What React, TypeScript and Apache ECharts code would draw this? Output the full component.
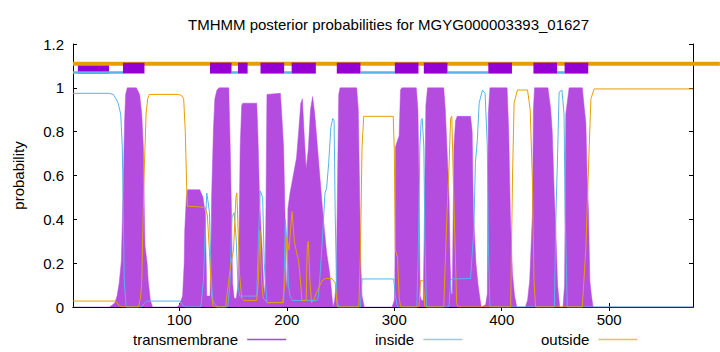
import React, { useEffect, useRef } from 'react';
import * as echarts from 'echarts';

const TITLE = 'TMHMM posterior probabilities for MGYG000003393_01627';
const Y_NAME = 'probability';
const SEQ_START = 1;
const SEQ_END = 578;
const xTickValues = [100, 200, 300, 400, 500];
const seriesNames = ['transmembrane', 'inside', 'outside'];

// posterior probability curves [residue, probability]
const transmembrane: number[][] = [
  [1, 0], [35, 0], [38, 0.01], [40, 0.02], [42, 0.05], [44, 0.11], [46, 0.21], [47, 0.4], [48, 0.6], [49, 0.85], [50, 0.97], [51.5, 1.0], [60, 1.0], [63, 0.97], [65, 0.88], [66.5, 0.73], [67.5, 0.4], [68, 0.28], [70, 0.2], [71, 0.12], [73, 0.03], [75, 0],
  [98, 0], [100, 0.01], [103, 0.05], [104.5, 0.2], [105, 0.35], [106.5, 0.5], [107.5, 0.535], [119, 0.535], [122, 0.5], [124, 0.43], [125, 0.2], [125.5, 0.05], [128.5, 0.05], [129.5, 0.3], [130, 0.5], [131.7, 0.81], [133, 0.95], [135, 0.99], [137, 1.0], [146, 1.0], [147.3, 0.73], [148.5, 0.43], [149.5, 0.11], [151, 0.04], [153, 0.04], [154, 0.08], [155, 0.12], [156.6, 0.73], [158, 0.92], [159, 0.93], [172, 0.93], [173, 0.8], [174.6, 0.5], [176, 0.35], [177, 0.27], [178.4, 0.1], [179.5, 0.05], [180.5, 0.4], [181.5, 0.97], [194, 0.975], [195, 0.9], [197, 0.73], [198.6, 0.35], [199.5, 0.12], [200.3, 0.08], [201, 0.45], [203, 0.52], [206, 0.6], [209, 0.68], [211, 0.8], [213, 0.93], [214.5, 0.95], [216, 0.8], [218, 0.63], [220, 0.72], [222, 0.9], [224, 0.96], [226, 0.88], [228, 0.76], [231, 0.58], [234, 0.4], [237, 0.25], [240, 0.15], [242, 0.05], [243, 0], [244.5, 0.03], [246, 0.12], [247.3, 0.6], [248.3, 0.97], [249.5, 1.0], [265, 1.0], [266.5, 0.9], [267.5, 0.6], [268.8, 0.2], [270, 0.05], [272, 0],
  [298, 0], [300, 0.03], [300.5, 0.1], [301.1, 0.73], [303, 0.76], [304.5, 0.78], [305.8, 0.99], [307, 1.0], [320.5, 1.0], [322, 0.9], [323, 0.58], [324, 0.05], [325.5, 0.03], [327, 0.03], [328, 0.4], [329.4, 0.92], [331, 1.0], [346, 1.0], [347.5, 0.9], [349, 0.73], [351, 0.5], [352, 0.2], [353, 0.06], [354, 0.06], [355.5, 0.73], [357, 0.85], [358.6, 0.87], [371, 0.87], [372.5, 0.8], [373.6, 0.43], [376, 0.2], [378, 0.1], [380, 0.03], [381, 0], [385, 0.01], [386.6, 0.06], [387.5, 0.88], [389, 1.0], [405, 1.0], [406.5, 0.8], [408, 0.43], [410, 0.15], [412, 0.05], [414, 0], [422, 0], [424, 0.03], [426, 0.12], [428.6, 0.43], [429.5, 0.9], [430.5, 1.0], [443, 1.0], [445.6, 0.9], [447, 0.8], [449, 0.5], [450.3, 0.35], [452, 0.1], [454, 0], [457, 0], [458.5, 0.1], [459.6, 0.88], [462.7, 1.0], [475, 1.0], [477, 0.9], [478.3, 0.84], [479.5, 0.6], [480.8, 0.43], [482, 0.12], [483.5, 0.05], [485, 0], [578, 0],
];

const inside: number[][] = [
  [1, 0.975], [34.7, 0.975], [38.5, 0.97], [41, 0.95], [43, 0.93], [45.4, 0.88], [46.9, 0.73], [47.8, 0.43], [48.7, 0.12], [50.3, 0.01], [51, 0], [65, 0], [67, 0.015], [69.6, 0.027], [100.6, 0.027], [103, 0.01], [105, 0], [120, 0], [122.4, 0.12], [124, 0.35], [125.5, 0.52], [127, 0.47], [128, 0.43], [129.5, 0.15], [131, 0.03], [134.9, 0], [145, 0], [147, 0.1], [148.9, 0.41], [151, 0.43], [153, 0.3], [154.5, 0.1], [156, 0.05], [172, 0.05], [173.5, 0.3], [175.2, 0.53], [177.5, 0.5], [179, 0.2], [181.5, 0.02], [197, 0.02], [198.6, 0.4], [200, 0.3], [201.5, 0.1], [203, 0.05], [205, 0.03], [228, 0.03], [229.5, 0.05], [231, 0.15], [233, 0.3], [235.5, 0.52], [237, 0.54], [239, 0.66], [241, 0.82], [242.7, 0.86], [244, 0.85], [245, 0.43], [246.5, 0.04], [248, 0], [268.5, 0], [270, 0.128], [299.5, 0.128], [301, 0.05], [303, 0], [321, 0], [322.5, 0.3], [323.8, 0.73], [325, 0.85], [326, 0.86], [327.5, 0.73], [328.5, 0.3], [330, 0], [350.9, 0], [352.4, 0.12], [353.5, 0.128], [371, 0.13], [374, 0.35], [375.5, 0.66], [377.3, 0.76], [379, 0.93], [382, 0.99], [384.5, 0.975], [386.6, 0.73], [387.5, 0.3], [389, 0], [449, 0], [450.3, 0.4], [452, 0.7], [453.4, 0.98], [456, 0.99], [458, 0.88], [459, 0.43], [461, 0], [578, 0],
];

const outside: number[][] = [
  [1, 0.027], [40, 0.027], [42, 0.02], [44, 0.005], [47, 0], [62, 0], [64, 0.05], [65, 0.12], [67, 0.58], [69, 0.88], [70.5, 0.95], [72, 0.97], [99, 0.97], [102, 0.965], [104, 0.95], [105.5, 0.8], [106.9, 0.53], [107.5, 0.46], [124, 0.455], [126, 0.42], [128, 0.25], [130, 0.05], [131.5, 0], [143, 0], [145.7, 0.11], [148, 0.2], [150.4, 0.26], [152.6, 0.5], [153.5, 0.52], [155, 0.3], [156, 0.15], [158, 0.04], [160, 0.03], [172, 0.03], [173.5, 0.12], [175, 0.35], [176.5, 0.12], [178, 0.04], [182, 0.02], [196, 0.02], [198, 0.1], [200, 0.32], [202, 0.26], [204.8, 0.435], [207, 0.3], [209, 0.25], [211, 0.21], [213, 0.1], [214, 0.03], [218, 0.03], [219, 0.27], [220, 0.3], [221.5, 0.12], [223, 0.02], [225, 0.03], [228, 0.07], [232.8, 0.12], [236, 0.13], [242, 0.13], [245, 0.11], [247, 0], [267, 0], [268.5, 0.25], [270, 0.73], [271.6, 0.87], [299, 0.87], [300, 0.72], [301, 0.26], [303, 0.23], [304.6, 0.04], [306, 0], [323, 0], [324.4, 0.12], [327, 0.12], [328.5, 0], [346, 0], [349, 0.42], [351, 0.65], [352.4, 0.86], [353.5, 0.87], [355, 0.57], [358, 0.02], [359, 0], [408.3, 0], [410, 0.58], [411.5, 0.93], [414.6, 0.99], [424, 0.99], [426.5, 0.9], [428.6, 0.57], [430, 0.12], [431.5, 0], [475, 0], [478.3, 0.27], [481.4, 0.73], [483, 0.95], [486, 0.995], [578, 0.995],
];

// predicted topology track [start, end]
const tmFirstSegment: number[][] = [[5.5, 34.5]];
const tmSegments: number[][] = [
  [47.5, 67.5], [128.5, 148.5], [154.5, 163.5], [175.5, 197.5], [204.5, 227], [246.5, 268.5],
  [300.5, 322.5], [327.5, 349.5], [387.5, 409.5], [429.5, 451.5], [458.5, 480.5],
];
const insideSegments: number[][] = [
  [1, 47.5], [148.5, 154.5], [197.5, 204.5], [268.5, 300.5], [349.5, 387.5], [451.5, 458.5],
];
const outsideSegments: number[][] = [[1, 603]];

const TRACK_OUT = 1.11;
const TRACK_IN = 1.07;
const BOX_TOP = 1.115;
const BOX_BOTTOM = 1.065;

const FONT = 'Liberation Sans, Arial, sans-serif';
const C_TM = '#b44ce0';
const C_BOX = '#9400d3';
const C_IN = '#56b4e9';
const C_OUT = '#e69f00';

function lineRender(level: number, width: number, color: string) {
  return (params: any, api: any) => {
    const a = api.coord([api.value(0), level]);
    const b = api.coord([api.value(1), level]);
    return {
      type: 'line',
      shape: { x1: a[0], y1: a[1], x2: b[0], y2: b[1] },
      style: { stroke: color, lineWidth: width },
    };
  };
}

function boxRender(params: any, api: any) {
  const a = api.coord([api.value(0), BOX_TOP]);
  const b = api.coord([api.value(1), BOX_BOTTOM]);
  return {
    type: 'rect',
    shape: { x: a[0], y: a[1], width: b[0] - a[0], height: b[1] - a[1] },
    style: { fill: C_BOX },
  };
}

const segData = (segs: number[][]) => segs.map((s) => [s[0], s[1], 1.1]);

export default function App() {
  const ref = useRef<HTMLDivElement>(null);
  useEffect(() => {
    document.body.style.margin = '0';
    const chart = echarts.init(ref.current!, undefined, { renderer: 'svg' });
    const axisLine = { show: true, lineStyle: { color: '#000', width: 1 } };
    const legendBase = {
      orient: 'horizontal',
      align: 'right',
      top: 331,
      padding: 1,
      itemWidth: 39,
      itemHeight: 1.5,
      textStyle: { fontFamily: FONT, fontSize: 15, color: '#000' },
      formatter: (n: string) => n + ' ',
    };
    chart.setOption({
      animation: false,
      backgroundColor: '#fff',
      title: {
        text: TITLE,
        left: 183,
        top: 12,
        textStyle: { fontFamily: FONT, fontSize: 15, fontWeight: 'normal', color: '#000' },
      },
      legend: [
        { ...legendBase, left: 132, data: [{ name: seriesNames[0], icon: 'rect', itemStyle: { color: '#a748dc' } }] },
        { ...legendBase, left: 374, data: [{ name: seriesNames[1], icon: 'rect', itemStyle: { color: '#8fcdf0' } }] },
        { ...legendBase, left: 540, data: [{ name: seriesNames[2], icon: 'rect', itemStyle: { color: '#efbd59' } }] },
      ],
      grid: { left: 73, right: 27, top: 44, bottom: 45, show: false },
      xAxis: [
        {
          type: 'value', min: SEQ_START, max: SEQ_END, position: 'bottom',
          axisLine, splitLine: { show: false },
          axisTick: { show: true, inside: true, length: 4, customValues: xTickValues, lineStyle: { color: '#000' } },
          axisLabel: { customValues: xTickValues, margin: 5, fontFamily: FONT, fontSize: 15, color: '#000' },
        },
        {
          type: 'value', min: SEQ_START, max: SEQ_END, position: 'top',
          axisLine, splitLine: { show: false },
          axisTick: { show: true, inside: true, length: 4, customValues: xTickValues, lineStyle: { color: '#000' } },
          axisLabel: { show: false },
        },
      ],
      yAxis: [
        {
          type: 'value', min: 0, max: 1.2, interval: 0.2, position: 'left',
          name: Y_NAME, nameLocation: 'middle', nameGap: 47, nameRotate: 90,
          nameTextStyle: { fontFamily: FONT, fontSize: 15, color: '#000' },
          axisLine, splitLine: { show: false },
          axisTick: { show: true, inside: true, length: 4, lineStyle: { color: '#000' } },
          axisLabel: {
            margin: 9, fontFamily: FONT, fontSize: 15, color: '#000',
            formatter: (v: number) => String(Math.round(v * 10) / 10),
          },
        },
        {
          type: 'value', min: 0, max: 1.2, interval: 0.2, position: 'right',
          axisLine, splitLine: { show: false },
          axisTick: { show: true, inside: true, length: 4, lineStyle: { color: '#000' } },
          axisLabel: { show: false },
        },
      ],
      series: [
        {
          name: seriesNames[0], type: 'line', data: transmembrane, showSymbol: false, z: 2,
          lineStyle: { color: C_TM, width: 0.5 }, itemStyle: { color: C_TM },
          areaStyle: { color: C_TM, opacity: 1 },
        },
        {
          name: seriesNames[1], type: 'line', data: inside, showSymbol: false, z: 3,
          lineStyle: { color: C_IN, width: 1 }, itemStyle: { color: C_IN },
        },
        {
          name: seriesNames[2], type: 'line', data: outside, showSymbol: false, z: 4,
          lineStyle: { color: C_OUT, width: 1 }, itemStyle: { color: C_OUT },
        },
        {
          name: 'tm-track-first', type: 'custom', renderItem: boxRender, data: segData(tmFirstSegment),
          encode: { x: [0, 1], y: 2 }, z: 5, clip: false, silent: true,
        },
        {
          name: 'inside-track', type: 'custom', renderItem: lineRender(TRACK_IN, 2.5, C_IN), data: segData(insideSegments),
          encode: { x: [0, 1], y: 2 }, z: 6, clip: false, silent: true,
        },
        {
          name: 'outside-track', type: 'custom', renderItem: lineRender(TRACK_OUT, 4, C_OUT), data: segData(outsideSegments),
          encode: { x: [0, 1], y: 2 }, z: 7, clip: false, silent: true,
        },
        {
          name: 'tm-track', type: 'custom', renderItem: boxRender, data: segData(tmSegments),
          encode: { x: [0, 1], y: 2 }, z: 8, clip: false, silent: true,
        },
      ],
    });
    return () => chart.dispose();
  }, []);
  return <div ref={ref} style={{ position: 'absolute', left: 0, top: 0, width: 720, height: 352 }} />;
}
